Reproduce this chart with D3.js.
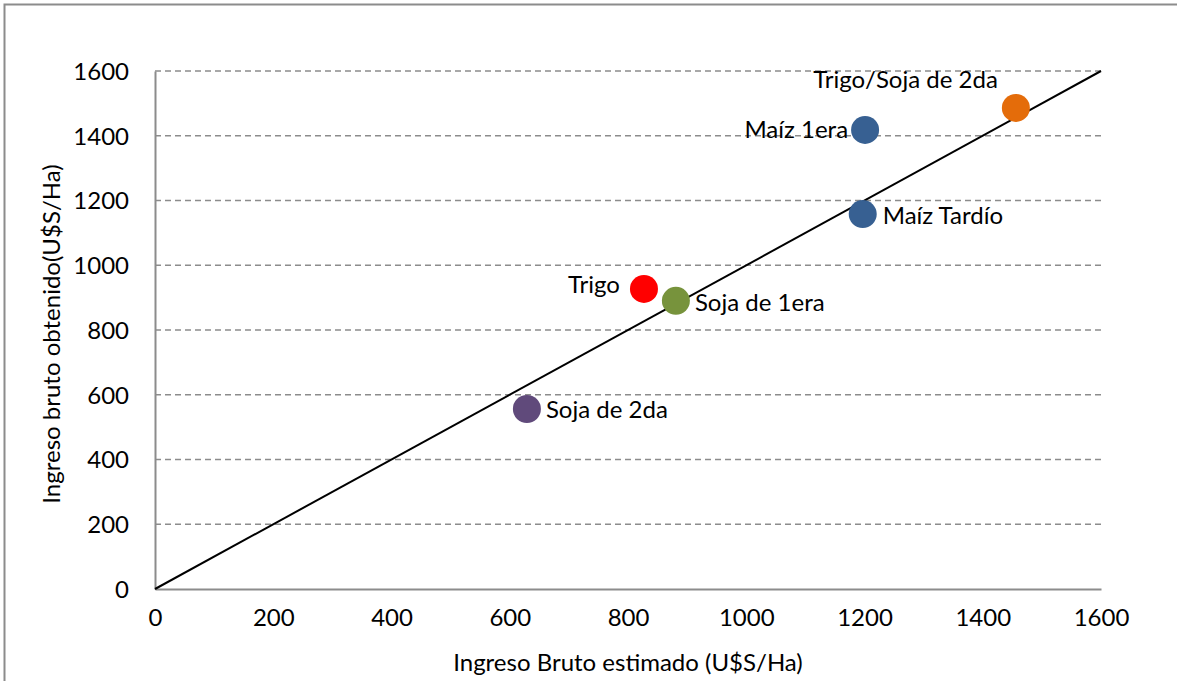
<!DOCTYPE html>
<html>
<head>
<meta charset="utf-8">
<script src="https://cdn.jsdelivr.net/npm/d3@7"></script>
<style>
	body{ margin:0; background:#fff; }
	svg text{ font-family: Lato, "Open Sans", sans-serif; fill:#000; }
</style>
</head>
<body>
<svg id="chart" width="1177" height="681"></svg>
<script>
// data
var cultivos = ["Trigo/Soja de 2da", "Maíz 1era", "Maíz Tardío", "Trigo", "Soja de 1era", "Soja de 2da"];
var estimado = [1456, 1201, 1197, 827, 881, 629];
var obtenido = [1486, 1418, 1158, 927, 890, 556];
var colores  = ["#e46c0a", "#376092", "#376092", "#ff0000", "#77933c", "#604a7b"];
var ticks = [0, 200, 400, 600, 800, 1000, 1200, 1400, 1600];

var fontSize = "24px";
var svg = d3.select("#chart");

// outer frame (only left and top visible)
svg.append("path")
	.attr("d", "M 4.5 681 L 4.5 4.5 L 1177 4.5")
	.attr("fill", "none")
	.attr("stroke", "#8c8c8c")
	.attr("stroke-width", 2);

var x = d3.scaleLinear().domain([0, 1600]).range([155, 1101]);
var y = d3.scaleLinear().domain([0, 1600]).range([589, 71]);

// gridlines
svg.append("g").selectAll("line").data(ticks.filter(function(t){ return t > 0; })).enter()
	.append("line")
	.attr("x1", x(0)).attr("x2", x(1600))
	.attr("y1", function(t){ return y(t); })
	.attr("y2", function(t){ return y(t); })
	.attr("stroke", "#8c8c8c")
	.attr("stroke-width", 1.5)
	.attr("stroke-dasharray", "6,4");

// axes
var fmt = d3.format("d");
var xAxis = svg.append("g").attr("transform", "translate(0," + y(0) + ")")
	.call(d3.axisBottom(x).tickValues(ticks).tickFormat(fmt).tickSize(0).tickPadding(20));
var yAxis = svg.append("g").attr("transform", "translate(" + x(0) + ",0)")
	.call(d3.axisLeft(y).tickValues(ticks).tickFormat(fmt).tickSize(0).tickPadding(26));
[xAxis, yAxis].forEach(function(a){
	a.select(".domain").attr("stroke", "#8c8c8c").attr("stroke-width", 2);
	a.selectAll("text").style("font-size", fontSize).attr("font-family", null);
});
yAxis.selectAll("text").attr("dy", "0.35em");

// 1:1 line
svg.append("line")
	.attr("x1", x(0)).attr("y1", y(0))
	.attr("x2", x(1600)).attr("y2", y(1600))
	.attr("stroke", "#000")
	.attr("stroke-width", 2);

// points
var puntos = cultivos.map(function(c, i){
	return { nombre: c, x: estimado[i], y: obtenido[i], color: colores[i] };
});
svg.append("g").selectAll("circle").data(puntos).enter()
	.append("circle")
	.attr("cx", function(d){ return x(d.x); })
	.attr("cy", function(d){ return y(d.y); })
	.attr("r", 14)
	.attr("fill", function(d){ return d.color; });

// labels: offsets relative to each point
var etiquetas = [
	{ dx: -18, dy: -28, anchor: "end" },
	{ dx: -17, dy: 0, anchor: "end" },
	{ dx: 20, dy: 2, anchor: "start" },
	{ dx: -24, dy: -4, anchor: "end" },
	{ dx: 19, dy: 2, anchor: "start" },
	{ dx: 19, dy: 1, anchor: "start" }
];
svg.append("g").selectAll("text").data(puntos).enter()
	.append("text")
	.attr("x", function(d, i){ return x(d.x) + etiquetas[i].dx; })
	.attr("y", function(d, i){ return y(d.y) + etiquetas[i].dy; })
	.attr("dy", "0.35em")
	.attr("text-anchor", function(d, i){ return etiquetas[i].anchor; })
	.style("font-size", fontSize)
	.text(function(d){ return d.nombre; });

// axis titles
svg.append("text")
	.attr("x", 628).attr("y", 663)
	.attr("dy", "0.35em")
	.attr("text-anchor", "middle")
	.style("font-size", fontSize)
	.text("Ingreso Bruto estimado (U$S/Ha)");
svg.append("text")
	.attr("transform", "translate(52,334) rotate(-90)")
	.attr("dy", "0.35em")
	.attr("text-anchor", "middle")
	.style("font-size", fontSize)
	.text("Ingreso bruto obtenido(U$S/Ha)");
</script>
</body>
</html>
